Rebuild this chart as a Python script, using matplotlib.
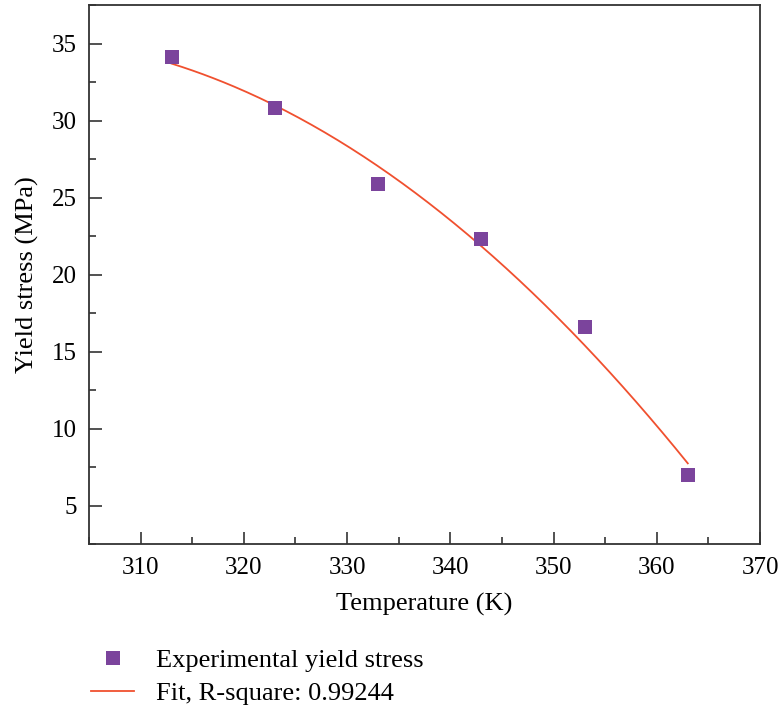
import numpy as np
import matplotlib.pyplot as plt
from matplotlib.lines import Line2D
from matplotlib.ticker import MultipleLocator

# yield stress measured at each test temperature
temperature = [313, 323, 333, 343, 353, 363]
yield_stress = [34.1, 30.8, 25.9, 22.3, 16.6, 7.0]

x_ticks = [310, 320, 330, 340, 350, 360, 370]
y_ticks = [5, 10, 15, 20, 25, 30, 35]
r_square = 0.99244

plt.rcParams["font.family"] = ["Liberation Serif", "DejaVu Serif"]

fig = plt.figure(figsize=(7.83, 7.08), dpi=100)
ax = fig.add_axes([0.1137, 0.2316, 0.857, 0.7613])

# quadratic fit through the measured points
coef = np.polyfit(temperature, yield_stress, 2)
t_fit = np.linspace(min(temperature), max(temperature), 200)
ax.plot(t_fit, np.polyval(coef, t_fit), color="#f0502f", linewidth=1.3)

ax.plot(temperature, yield_stress, "s", color="#7b449c", markersize=9.5,
        markeredgewidth=0)

ax.set_xlim(305, 370)
ax.set_ylim(2.5, 37.5)
ax.set_xticks(x_ticks)
ax.set_yticks(y_ticks)
ax.xaxis.set_minor_locator(MultipleLocator(5))
ax.yaxis.set_minor_locator(MultipleLocator(2.5))
ax.tick_params(which="both", direction="in", top=False, right=False,
               labelsize=18, color="#333333", width=1.2)
ax.tick_params(which="major", length=9, pad=9)
ax.tick_params(which="minor", length=5)
for sp in ax.spines.values():
    sp.set_linewidth(1.3)
    sp.set_color("#333333")

ax.set_xlabel("Temperature (K)", fontsize=19, labelpad=10)
ax.set_ylabel("Yield stress (MPa)", fontsize=19, labelpad=9)

handles = [
    Line2D([], [], marker="s", linestyle="none", color="#7b449c",
           markersize=9.5, markeredgewidth=0),
    Line2D([], [], color="#f0502f", linewidth=1.3),
]
labels = ["Experimental yield stress", f"Fit, R-square: {r_square:.5f}"]
fig.legend(handles, labels, loc="upper left", bbox_to_anchor=(0.1, 0.102),
           frameon=False, fontsize=19, handlelength=1.6, handletextpad=0.85,
           labelspacing=0.35, borderpad=0)

fig.savefig("out.png", dpi=100)
